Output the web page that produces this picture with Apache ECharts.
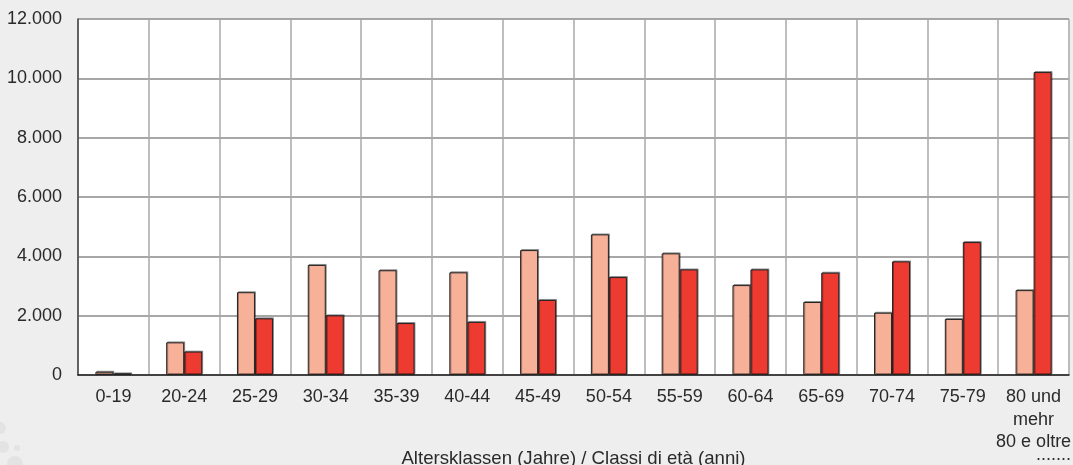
<!DOCTYPE html>
<html>
<head>
<meta charset="utf-8">
<script src="https://cdn.jsdelivr.net/npm/echarts@6/dist/echarts.min.js"></script>
<style>
html,body{margin:0;padding:0;background:#eeeeee;}
#c{width:1073px;height:465px;}
</style>
</head>
<body>
<div id="c"></div>
<script>
var categories = ['0-19','20-24','25-29','30-34','35-39','40-44','45-49','50-54','55-59','60-64','65-69','70-74','75-79','80 und\nmehr\n80 e oltre'];
var seriesLight = [110, 1100, 2790, 3710, 3530, 3460, 4210, 4740, 4100, 3030, 2460, 2100, 1890, 2860];
var seriesDark = [55, 790, 1910, 2010, 1750, 1790, 2530, 3300, 3560, 3560, 3450, 3830, 4480, 10210];
var yTicks = [0, 2000, 4000, 6000, 8000, 10000, 12000];
var axisName = 'Altersklassen (Jahre) / Classi di età (anni)';

function fmt(v){ return String(v).replace(/\B(?=(\d{3})+(?!\d))/g, '.'); }

var chart = echarts.init(document.getElementById('c'), null, {renderer:'canvas'});
var barStyle = function(color){
  return {color: color, borderColor: '#222', borderWidth: 1,
          shadowColor: 'rgba(0,0,0,0.35)', shadowOffsetX: 1, shadowOffsetY: -1, shadowBlur: 0};
};
chart.setOption({
  backgroundColor: '#eeeeee',
  animation: false,
  textStyle: {fontFamily: 'Liberation Sans, Arial, sans-serif'},
  graphic: [
    {type:'circle', shape:{cx:0, cy:428, r:6}, style:{fill:'#e3e3e3'}, z:-1},
    {type:'circle', shape:{cx:3, cy:447, r:6}, style:{fill:'#e3e3e3'}, z:-1},
    {type:'circle', shape:{cx:17, cy:448, r:3}, style:{fill:'#e3e3e3'}, z:-1},
    {type:'circle', shape:{cx:15, cy:464, r:8}, style:{fill:'#e3e3e3'}, z:-1},
    {type:'text', left: 1036, top: 446, style:{text: '.......', fontSize: 18, fill: '#2a2a2a', font: '18px Liberation Sans, Arial, sans-serif'}}
  ],
  grid: {left: 78, top: 19, right: 4, bottom: 90, show: true, backgroundColor: '#ffffff', borderWidth: 0, containLabel: false, outerBoundsMode: 'none'},
  xAxis: {
    type: 'category',
    data: categories,
    name: axisName,
    nameLocation: 'middle',
    nameGap: 74,
    nameMoveOverlap: false,
    nameTextStyle: {fontSize: 18.6, color: '#2a2a2a'},
    axisLine: {show: true, lineStyle: {color: '#222', width: 1.5}},
    axisTick: {show: false},
    axisLabel: {fontSize: 18, color: '#2a2a2a', margin: 11, lineHeight: 22.5, interval: 0},
    splitLine: {show: true, interval: 0, lineStyle: {color: '#a8a8a8', width: 1.5}}
  },
  yAxis: {
    type: 'value',
    min: 0, max: 12000, interval: 2000,
    axisLine: {show: true, lineStyle: {color: '#444', width: 1.5}},
    axisTick: {show: false},
    axisLabel: {fontSize: 18, color: '#2a2a2a', margin: 16,
      formatter: function(v){ return yTicks.indexOf(v) >= 0 ? fmt(v) : ''; }},
    splitLine: {show: true, lineStyle: {color: '#8a8a8a', width: 1.5}}
  },
  series: [
    {type: 'bar', data: seriesLight, barWidth: 18, barGap: '0%', itemStyle: barStyle('#f8b199')},
    {type: 'bar', data: seriesDark, barWidth: 18, barGap: '0%', itemStyle: barStyle('#ee3b32')}
  ]
});
</script>
</body>
</html>
